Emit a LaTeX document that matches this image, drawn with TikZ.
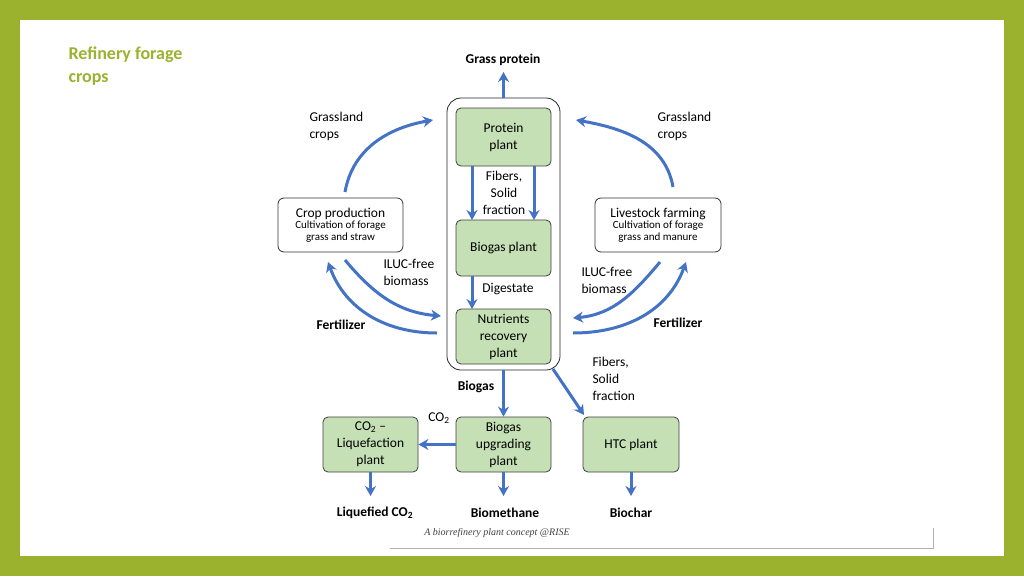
\documentclass[tikz,border=0pt]{standalone}
\usepackage{fontspec}
\setmainfont{Carlito}
\newfontfamily\capfont{Liberation Serif}
\usetikzlibrary{arrows.meta}
\definecolor{frame}{HTML}{9BB22F}
\definecolor{flow}{HTML}{4472C4}
\definecolor{plant}{HTML}{C5E0B4}
\tikzset{
  unit/.style={draw=black!75, fill=plant, rounded corners=5pt, thick, align=center, font=\fontsize{13.5}{17}\selectfont, inner sep=0pt},
  side/.style={draw=black!80, fill=white, rounded corners=6pt, thick, align=center, inner sep=0pt},
  flw/.style={draw=flow, line width=3pt, -{Stealth[length=10pt,width=11pt]}},
  lbl/.style={font=\fontsize{13.5}{17}\selectfont, align=center},
  product/.style={font=\bfseries\fontsize{13.5}{17}\selectfont}
}
\begin{document}
\begin{tikzpicture}[x=1pt,y=-1pt]
% ram
\fill[frame] (0,0) rectangle (1024,576);
\fill[white] (20,20) rectangle (1004,556);
\node[anchor=west, text=frame, font=\bfseries\fontsize{18}{23}\selectfont, align=left] (title) at (65,66) {Refinery forage\\crops};
% stora lådan
\draw[black!85, thick, rounded corners=14pt] (447,98) rectangle (560,370);
\node[unit, minimum width=95pt, minimum height=58pt] (prot) at (503.5,137) {Protein\\plant};
\node[unit, minimum width=95pt, minimum height=56pt] (bgp) at (503.5,248) {Biogas plant};
\node[unit, minimum width=95pt, minimum height=55pt] (nut) at (503.5,336.5) {Nutrients\\recovery\\plant};
\coordinate (top) at (503.5,98);
\node[product] (gp) at (503,60) {Grass protein};
\draw[flw] (top) -- (503.5,72);
\draw[flw] (472,166) -- (472,220);
\draw[flw] (534,166) -- (534,220);
\node[lbl] (fib) at (504,193) {Fibers,\\Solid\\fraction};
\draw[flw] (472,276) -- (472,309);
\node[lbl] (dig) at (508,289) {Digestate};
% sidolådor
\node[side, minimum width=125pt, minimum height=54pt] (crop) at (340.5,225) {\fontsize{13.5}{15}\selectfont Crop production\\[-1pt]\fontsize{11}{14}\selectfont Cultivation of forage\\\fontsize{11}{14}\selectfont grass and straw};
\node[side, minimum width=126pt, minimum height=54pt] (live) at (658,225) {\fontsize{13.5}{15}\selectfont Livestock farming\\[-1pt]\fontsize{11}{14}\selectfont Cultivation of forage\\\fontsize{11}{14}\selectfont grass and manure};
\node[lbl, align=left, anchor=west] (gl) at (306,126) {Grassland\\crops};
\node[lbl, align=left, anchor=west] (gr) at (654,126) {Grassland\\crops};
\node[lbl, align=left, anchor=west] (il) at (380,272) {ILUC-free\\biomass};
\node[lbl, align=left, anchor=west] (ir) at (578,280) {ILUC-free\\biomass};
\node[product] (fl) at (341,325) {Fertilizer};
\node[product] (fr) at (678,323) {Fertilizer};
% bågar
\draw[flw] (345,192) to[out=80, in=190] (433,120);
\draw[flw] (345,260) to[out=-50, in=175] (441,316);
\draw[flw] (437,333) to[out=180, in=-70] (328,262);
\draw[flw] (673,187) to[out=100, in=-10] (576,120);
\draw[flw] (660,262) to[out=-130, in=5] (573,318);
\draw[flw] (573,333) to[out=0, in=-110] (686,262);
% nedre delen
\node[unit, minimum width=95pt, minimum height=55pt] (upg) at (503.5,444.5) {Biogas\\upgrading\\plant};
\node[unit, minimum width=95pt, minimum height=55pt] (liq) at (370.5,444.5) {CO\textsubscript{2} --\\Liquefaction\\plant};
\node[unit, minimum width=96pt, minimum height=55pt] (htc) at (631,444.5) {HTC plant};
\draw[flw] (503.5,370) -- (upg.north);
\node[product] (bg) at (476,387) {Biogas};
\draw[flw] (553,369) -- (584,415);
\node[lbl, align=left, anchor=west] (fib2) at (589,379) {Fibers,\\Solid\\fraction};
\draw[flw] (upg.west) -- (liq.east);
\node[lbl] (co) at (439,418) {CO\textsubscript{2}};
\node[product] (lco) at (375,513) {Liquefied CO\textsubscript{2}};
\node[product] (bm) at (505,513) {Biomethane};
\node[product] (bc) at (631,513) {Biochar};
\draw[flw] (liq.south) -- (370.5,496);
\draw[flw] (upg.south) -- (503.5,496);
\draw[flw] (htc.south) -- (631,496);
% bildtext
\node[font=\capfont\itshape\fontsize{10}{12}\selectfont, text=black!75] (cap) at (497,533) {A biorrefinery plant concept @RISE};
\draw[black!30, line width=1pt] (390,548) -- (933,548) -- (933,528);
\end{tikzpicture}
\end{document}
